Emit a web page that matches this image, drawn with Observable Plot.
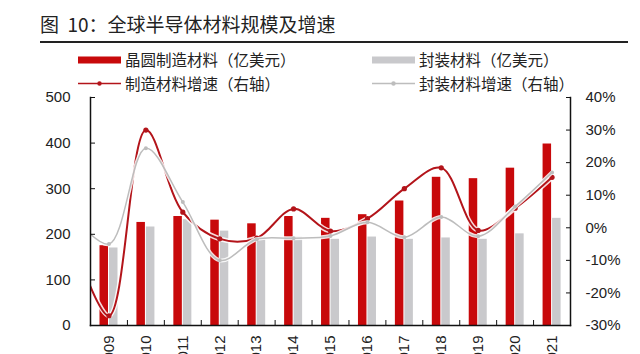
<!DOCTYPE html>
<html><head><meta charset="utf-8">
<script src="https://cdn.jsdelivr.net/npm/d3@7"></script>
<script src="https://cdn.jsdelivr.net/npm/@observablehq/plot@0.6"></script>
<style>
html,body{margin:0;padding:0;width:640px;height:354px;overflow:hidden;background:#fff;color:#222;font-family:"Liberation Sans",Arial,"Noto Sans CJK SC",sans-serif}
.abs{position:absolute}
#title{left:40px;top:11px;font-size:19px;line-height:26px;font-family:"Noto Sans CJK SC",sans-serif;color:#222;white-space:nowrap}
#rule{left:40px;top:41px;width:588px;height:2px;background:#222}
.lt{font-size:15.5px;line-height:19px;font-family:"Noto Sans CJK SC",sans-serif;white-space:nowrap;color:#222}
#chart{left:0;top:88px}
</style></head>
<body>
<div id="title" class="abs">图&nbsp; 10：全球半导体材料规模及增速</div>
<div id="rule" class="abs"></div>
<div id="legend"></div>
<div id="chart" class="abs"></div>
<script>
// ---- data ----
const barYears = ["2009","2010","2011","2012","2013","2014","2015","2016","2017","2018","2019","2020","2021"];
const fabMaterials = [175,226,239,231,223,239,235,243,273,325,322,345,398];   // 亿美元
const pkgMaterials = [170,216,232,207,196,194,189,194,189,192,189,201,235];   // 亿美元
const lineYears = ["2008","2009","2010","2011","2012","2013","2014","2015","2016","2017","2018","2019","2020","2021"];
const fabGrowth = [-3,-27,30,4.8,-3.4,-3.2,5.8,-1,2.8,12,18.4,-0.8,6,15.5];     // %
const pkgGrowth = [4,-5,24.4,7.9,-10,-3.5,-3.2,-2.5,1.7,-2.9,3.3,-2.6,6.5,17];  // %
const leftTicks = [0,100,200,300,400,500];
const rightTicks = [-30,-20,-10,0,10,20,30,40];
const legendItems = [
  {label:"晶圆制造材料（亿美元）", kind:"bar", color:"#c8090b"},
  {label:"封装材料（亿美元）", kind:"bar", color:"#c9c9cc"},
  {label:"制造材料增速（右轴）", kind:"line", color:"#b3141a"},
  {label:"封装材料增速（右轴）", kind:"line", color:"#bdbdbd"}
];

// ---- colours ----
const RED_BAR = "#c8090b", GREY_BAR = "#c9c9cc", RED_LINE = "#b3141a", GREY_LINE = "#bdbdbd";

// right axis (%) mapped onto left axis domain
const L0 = 0, L1 = 500, R0 = -30, R1 = 40;
const toLeft = p => (p - R0) * (L1 - L0) / (R1 - R0) + L0;
const fromLeft = v => (v - L0) * (R1 - R0) / (L1 - L0) + R0;

const bars = barYears.map((year, i) => ({year, fab: fabMaterials[i], pkg: pkgMaterials[i]}));
const lines = lineYears.map((year, i) => ({year, fab: fabGrowth[i], pkg: pkgGrowth[i]}));
const shown = lines.filter(d => barYears.includes(d.year));

// ---- legend ----
const legend = document.getElementById("legend");
const pos = [[78,50],[372,50],[78,73.5],[372,73.5]];
legendItems.forEach((it, i) => {
  const [x, y] = pos[i];
  const sw = document.createElementNS("http://www.w3.org/2000/svg","svg");
  sw.setAttribute("width", 43); sw.setAttribute("height", 19);
  sw.setAttribute("class","abs");
  sw.style.left = x + "px"; sw.style.top = y + "px";
  if (it.kind === "bar") {
    sw.innerHTML = `<rect x="0" y="6.5" width="43" height="7" fill="${it.color}"/>`;
  } else {
    sw.innerHTML = `<line x1="0" x2="43" y1="9.5" y2="9.5" stroke="${it.color}" stroke-width="1.5"/><circle cx="21.5" cy="9.5" r="2.2" fill="${it.color}"/>`;
  }
  legend.appendChild(sw);
  const t = document.createElement("div");
  t.className = "abs lt";
  t.style.left = (x + 47) + "px"; t.style.top = y + "px";
  t.textContent = it.label;
  legend.appendChild(t);
});

// ---- chart ----
const W = 640, H = 266, ML = 90, MR = 70, MT = 9, MB = 29;
const bw = (W - ML - MR) / barYears.length;

const chart = Plot.plot({
  width: W, height: H,
  marginLeft: ML, marginRight: MR, marginTop: MT, marginBottom: MB,
  style: {fontFamily: "Liberation Sans, Arial, sans-serif", fontSize: "15px", color: "#222", overflow: "visible", background: "transparent"},
  x: {type: "band", domain: lineYears, range: [ML - bw, W - MR], padding: 0, round: false, axis: null},
  y: {domain: [L0, L1], axis: null},
  marks: [
    Plot.barY(bars, {x: "year", y: "fab", fill: RED_BAR, insetLeft: 9.5, insetRight: bw - 18}),
    Plot.barY(bars, {x: "year", y: "pkg", fill: GREY_BAR, insetLeft: 19, insetRight: bw - 27.5}),
    Plot.line(lines, {x: "year", y: d => toLeft(d.fab), stroke: "#fff", strokeOpacity: 0.85, strokeWidth: 5, curve: "catmull-rom", clip: true}),
    Plot.line(lines, {x: "year", y: d => toLeft(d.fab), stroke: RED_LINE, strokeWidth: 2, curve: "catmull-rom", clip: true}),
    Plot.dot(shown, {x: "year", y: d => toLeft(d.fab), r: 2.6, fill: RED_LINE}),
    Plot.line(lines, {x: "year", y: d => toLeft(d.pkg), stroke: "#fff", strokeOpacity: 0.85, strokeWidth: 4, curve: "catmull-rom", clip: true}),
    Plot.line(lines, {x: "year", y: d => toLeft(d.pkg), stroke: GREY_LINE, strokeWidth: 1.5, curve: "catmull-rom", clip: true}),
    Plot.dot(shown, {x: "year", y: d => toLeft(d.pkg), r: 2, fill: GREY_LINE}),
    Plot.frame({anchor: "left", stroke: "#111", strokeWidth: 1.5}),
    Plot.frame({anchor: "right", stroke: "#111", strokeWidth: 1.5}),
    Plot.frame({anchor: "bottom", stroke: "#111", strokeWidth: 1.5}),
    Plot.axisY(leftTicks, {anchor: "left", tickSize: -5, tickPadding: 25, label: null, stroke: "#111", fill: "#222", fontSize: 15}),
    Plot.axisY(rightTicks.map(toLeft), {anchor: "right", tickSize: -5, tickPadding: 20, label: null, stroke: "#111", fill: "#222", fontSize: 15, tickFormat: v => Math.round(fromLeft(v)) + "%"}),
    Plot.axisX(barYears.slice(1), {anchor: "bottom", tickSize: -5, dx: -bw / 2, tickFormat: () => "", label: null, stroke: "#111"}),
    Plot.axisX(barYears, {anchor: "bottom", tickSize: 0, tickRotate: -90, tickPadding: 10, label: null, fill: "#222", fontSize: 15})
  ]
});
document.getElementById("chart").appendChild(chart);
</script>
</body></html>
